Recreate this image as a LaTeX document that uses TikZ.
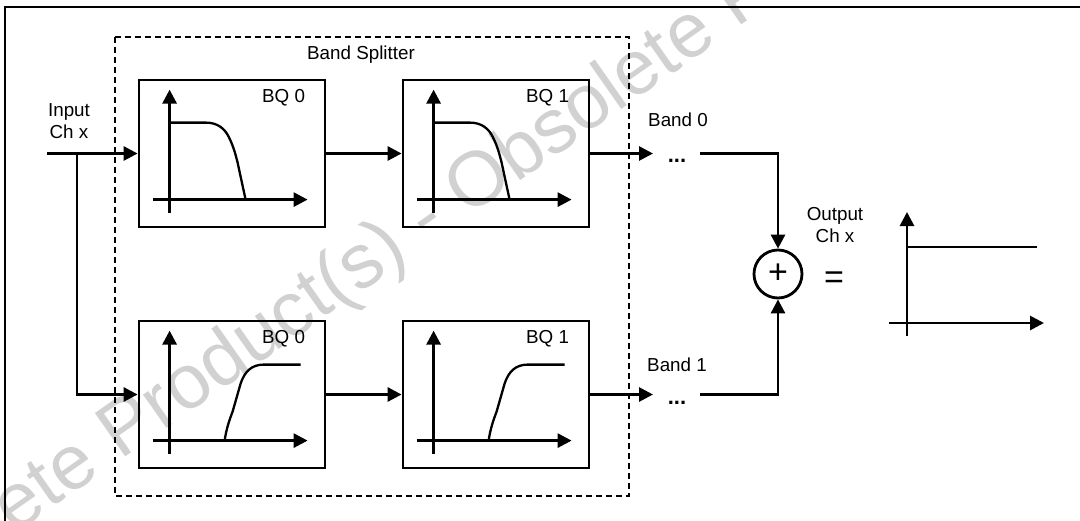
\documentclass[tikz,border=0pt]{standalone}
\usepackage{fontspec}
\setmainfont{Liberation Sans}
\usetikzlibrary{arrows.meta}

\begin{document}
\begin{tikzpicture}[x=1pt, y=-1pt,
  font=\fontsize{18.8}{22}\selectfont,
  wire/.style={line width=2.8pt},
  tip/.style={-{Triangle[length=14pt,width=14pt]}},
  bq/.style={draw, line width=2.8pt, minimum width=186pt, minimum height=147pt, inner sep=0pt},
  curve/.style={line width=2.3pt, line join=round},
  dots/.style={font=\fontsize{22}{22}\selectfont\bfseries, anchor=base, inner sep=0pt},
  big/.style={font=\fontsize{34}{34}\selectfont, inner sep=0pt}]
\useasboundingbox (0,0) rectangle (1080,520);
\begin{scope}
\clip (0,0) rectangle (1080,520);
\node[text=black!18, font=\fontsize{77}{77}\selectfont, rotate=35, anchor=base west, inner sep=0pt] (mark) at (-150,650) {Obsolete Product(s) - Obsolete Product(s)};
\draw[line width=1.6pt] (5,530) -- (5,7) -- (1090,7);
\end{scope}
%\draw[red] (0,0) rectangle (1080,520);
\draw[wire, dash pattern=on 6pt off 4pt] (115,37) rectangle (629,496);
\node (split) at (361,55) {Band Splitter};
\node[bq] (lp0) at (232,153.5) {};
\node[bq] (lp1) at (496,153.5) {};
\node[bq] (hp0) at (232,394.5) {};
\node[bq] (hp1) at (496,394.5) {};
\foreach \b/\t in {lp0/BQ 0, lp1/BQ 1, hp0/BQ 0, hp1/BQ 1}
  \node (\b t) at ([shift={(146,19)}]\b.north west) {\t};
\foreach \b in {lp0,lp1,hp0,hp1}{
  \begin{scope}[shift={(\b.north west)}]
  \draw[wire,tip] (32,134) -- (32,11);
  \draw[wire,tip] (15,121) -- (170,121);
  \end{scope}
}
\foreach \b in {lp0,lp1}{
  \begin{scope}[shift={(\b.north west)}]
  \draw[curve] (32,44) -- (68,44) .. controls (80,44) and (87,50) .. (91,58) .. controls (96,68) and (98,76) .. (100,84) -- (108,121);
  \end{scope}
}
\foreach \b in {hp0,hp1}{
  \begin{scope}[shift={(\b.north west)}]
  \draw[curve] (87,121) .. controls (89,108) and (92,100) .. (95,92) -- (103,64) .. controls (107,52) and (114,45) .. (126,45) -- (163,45);
  \end{scope}
}
\coordinate (in) at (47,153.5);
\coordinate (br) at (77,153.5);
\node[align=center] (inlbl) at (69,121) {Input\\Ch x};
\draw[wire,tip] (in) -- (lp0);
\draw[wire,tip] (br) |- (hp0);
\draw[wire,tip] (lp0) -- (lp1);
\draw[wire,tip] (hp0) -- (hp1);
\node[draw, circle, wire, minimum size=48pt, inner sep=0pt, big] (sum) at (778,274) {+};
\coordinate (b0) at (653,153.5);
\coordinate (c0) at (700,153.5);
\coordinate (b1) at (653,394.5);
\coordinate (c1) at (700,394.5);
\node (band0) at (678,120) {Band 0};
\node (band1) at (677,365) {Band 1};
\node[dots] (d0) at (677,162) {...};
\node[dots] (d1) at (677,404) {...};
\draw[wire,tip] (lp1) -- (b0);
\draw[wire,tip] (hp1) -- (b1);
\draw[wire,tip] (c0) -| (sum);
\draw[wire,tip] (c1) -| (sum);
\node[big] (eq) at (834,280) {=};
\node[align=center] (outlbl) at (835,225) {Output\\Ch x};
\draw[wire,tip] (907,336) -- (907,212);
\draw[wire,tip] (889,323) -- (1044,323);
\draw[wire] (907,247) -- (1037,247);
\end{tikzpicture}
\end{document}
